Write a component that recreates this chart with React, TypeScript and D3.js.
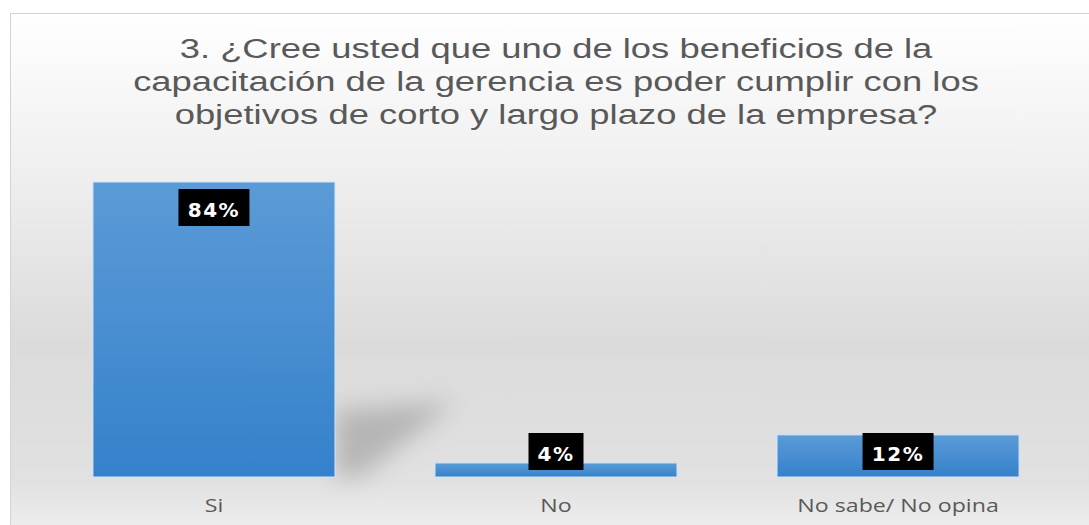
import React, { ReactElement, useEffect, useRef } from "react";
import * as d3 from "d3";

const titleLines = [
  "3. ¿Cree usted que uno de los beneficios de la",
  "capacitación de la gerencia es poder cumplir con los",
  "objetivos de corto y largo plazo de la empresa?",
];
const categories = ["Si", "No", "No sabe/ No opina"];
const values = [0.84, 0.04, 0.12];

function App(): ReactElement {
  const ref = useRef<SVGSVGElement>(null);

  useEffect(() => {
    drawChart();
  }, []);

  const drawChart = () => {
    const width = 1089;
    const height = 525;
    const svg = d3.select(ref.current).attr("width", width).attr("height", height);
    svg.selectAll("*").remove();

    const defs = svg.append("defs");
    const bg = defs
      .append("linearGradient")
      .attr("id", "bg")
      .attr("x1", 0)
      .attr("y1", 0)
      .attr("x2", 0)
      .attr("y2", 1);
    [
      [0, "#ffffff"],
      [0.25, "#f0f0f0"],
      [0.55, "#dbdbdb"],
      [0.78, "#e1e1e1"],
      [0.9, "#f4f4f4"],
      [1, "#ffffff"],
    ].forEach(([o, c]) => bg.append("stop").attr("offset", o as number).attr("stop-color", c as string));

    const barGrad = defs
      .append("linearGradient")
      .attr("id", "bar")
      .attr("x1", 0)
      .attr("y1", 0)
      .attr("x2", 0)
      .attr("y2", 1);
    barGrad.append("stop").attr("offset", 0).attr("stop-color", "#5b9bd7");
    barGrad.append("stop").attr("offset", 1).attr("stop-color", "#3581cb");

    defs
      .append("filter")
      .attr("id", "blur")
      .attr("x", -0.5)
      .attr("y", -0.5)
      .attr("width", 2)
      .attr("height", 2)
      .append("feGaussianBlur")
      .attr("stdDeviation", 12);

    // chart area
    svg
      .append("rect")
      .attr("x", 10.5)
      .attr("y", 13.5)
      .attr("width", 1100)
      .attr("height", 600)
      .attr("fill", "url(#bg)")
      .attr("stroke", "#d4d4d4");

    // title (stretched a bit wider, like the original)
    const title = svg
      .append("text")
      .attr("text-anchor", "middle")
      .attr("fill", "#595959")
      .attr("transform", "translate(556,0) scale(1.3,1)")
      .style("font-family", "Liberation Sans, Arial, sans-serif")
      .style("font-size", "28px");
    titleLines.forEach((line, i) => {
      title
        .append("tspan")
        .attr("x", 0)
        .attr("y", 58 + i * 33)
        .text(line);
    });

    const baseline = 477;
    const x = d3.scaleBand().domain(categories).range([43, 1069]).paddingInner(0.2924).paddingOuter(0.146);
    const y = d3.scaleLinear().domain([0, 0.9]).range([baseline, baseline - 0.9 * (295 / 0.84)]);

    // soft shadow behind the tall bar
    const first = categories[0];
    const sx = (x(first) || 0) + x.bandwidth();
    const sTop = y(values[0]);
    svg
      .append("path")
      .attr(
        "d",
        `M${sx},${baseline} L${sx},${sTop + 228} L${sx + 120},${sTop + 220} L${sx + 25},${baseline} Z`
      )
      .attr("fill", "#8c8c8c")
      .attr("opacity", 0.5)
      .attr("filter", "url(#blur)");

    const g = svg.append("g");
    g.selectAll(".bar")
      .data(values)
      .enter()
      .append("rect")
      .attr("class", "bar")
      .attr("x", (_, i) => x(categories[i]) || 0)
      .attr("y", (d) => y(d))
      .attr("width", x.bandwidth())
      .attr("height", (d) => baseline - y(d))
      .attr("fill", "url(#bar)")
      .attr("stroke", "#cfe6fb")
      .attr("stroke-width", 1);

    // data labels
    const fmt = d3.format(".0%");
    const boxH = 37;
    const labels = g
      .selectAll(".lbl")
      .data(values)
      .enter()
      .append("g")
      .attr("class", "lbl");
    labels.each(function (d, i) {
      const txt = fmt(d);
      const bw = 16 * txt.length + 23;
      const cx = (x(categories[i]) || 0) + x.bandwidth() / 2;
      const top = Math.min(y(d) + 7, baseline - 7 - boxH);
      const lg = d3.select(this);
      lg.append("rect")
        .attr("x", cx - bw / 2)
        .attr("y", top)
        .attr("width", bw)
        .attr("height", boxH)
        .attr("fill", "#000000");
      lg.append("text")
        .attr("x", cx)
        .attr("y", top + 28)
        .attr("text-anchor", "middle")
        .attr("fill", "#ffffff")
        .style("font-family", "DejaVu Sans, sans-serif")
        .style("font-weight", "bold")
        .style("font-size", "20px")
        .style("letter-spacing", "1.5px")
        .text(txt);
    });

    // category axis labels
    g.selectAll(".cat")
      .data(categories)
      .enter()
      .append("text")
      .attr("class", "cat")
      .attr("transform", (d) => `translate(${(x(d) || 0) + x.bandwidth() / 2},512) scale(1.22,1)`)
      .attr("text-anchor", "middle")
      .attr("fill", "#595959")
      .style("font-family", "Open Sans, sans-serif")
      .style("font-size", "19px")
      .text((d) => d);
  };

  return (
    <div style={{ position: "absolute", left: 0, top: 0 }}>
      <svg ref={ref} style={{ display: "block" }}></svg>
    </div>
  );
}

export default App;
